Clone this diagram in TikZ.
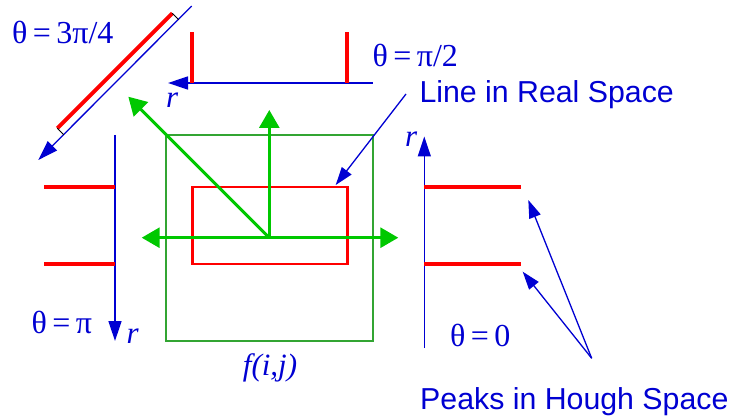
\documentclass[tikz,border=0pt]{standalone}
\usepackage{fontspec}
\setmainfont{Liberation Sans}
\newfontfamily\serif{Liberation Serif}
\usetikzlibrary{arrows.meta}
\definecolor{hblue}{RGB}{0,0,210}
\definecolor{hred}{RGB}{255,0,0}
\definecolor{hgreen}{RGB}{0,200,0}
\definecolor{boxgreen}{RGB}{50,165,50}
\newcommand{\eqsp}{\hspace{0.17em}=\hspace{0.17em}}
\tikzset{
  axisline/.style={draw=hblue, line width=1.5pt, -{Triangle[length=20pt,width=13pt]}},
  peakline/.style={draw=hred, line width=4pt},
  garrow/.style={draw=hgreen, line width=3pt, -{Triangle[length=18pt,width=20pt]}},
  lbl/.style={text=hblue, font=\fontsize{30.3}{36}\selectfont, inner sep=0pt},
  mlbl/.style={text=hblue, font=\serif\fontsize{32}{38}\selectfont, inner sep=0pt},
  ilbl/.style={text=hblue, font=\serif\itshape\fontsize{31}{37}\selectfont, inner sep=0pt},
  pointer/.style={draw=hblue, line width=1.3pt, -{Triangle[length=18pt,width=12pt]}},
}
\begin{document}
\begin{tikzpicture}[x=1pt,y=-1pt]
\useasboundingbox[fill=white] (0,0) rectangle (735,419);

% real space
\node[draw=boxgreen, line width=1.4pt, minimum width=207pt, minimum height=206pt, inner sep=0pt] (img) at (269.5,238) {};
\node[draw=hred, line width=2.5pt, minimum width=155pt, minimum height=77pt, inner sep=0pt] (line) at (269.8,225.6) {};
\coordinate (c) at (269.3,237.7);
\coordinate (gl) at (141.7,237.7);
\coordinate (gr) at (398.3,237.7);
\coordinate (gu) at (269.3,110);
\coordinate (gd) at (128.3,96.7);
\draw[garrow] (c) -- (gl);
\draw[garrow] (c) -- (gr);
\draw[garrow] (c) -- (gu);
\draw[garrow] (c) -- (gd);
\node[ilbl, anchor=base] (fij) at (270,375) {f(i,j)};

% theta = pi/2 (top)
\coordinate (ta0) at (372.7,83);
\coordinate (ta1) at (168,83);
\draw[axisline] (ta0) -- (ta1);
\coordinate (tp1a) at (192.3,32.3); \coordinate (tp1b) at (192.3,83);
\coordinate (tp2a) at (347.3,32.3); \coordinate (tp2b) at (347.3,83);
\draw[peakline] (tp1a) -- (tp1b);
\draw[peakline] (tp2a) -- (tp2b);
\node[ilbl, anchor=base west] (rtop) at (166,108) {r};
\node[mlbl, anchor=base west] (th2) at (372.5,66.7) {θ\eqsp π/2};

% theta = 3pi/4 (diagonal)
\coordinate (da0) at (191.7,6);
\coordinate (da1) at (38.3,160);
\draw[axisline, line width=1.3pt] (da0) -- (da1);
\coordinate (dp1) at (172.3,13.3);
\coordinate (dp2) at (57.3,128.3);
\coordinate (dt1) at (178.7,19.7);
\coordinate (dt2) at (63.7,134.7);
\draw[peakline] (dp1) -- (dp2);
\draw[black, line width=1pt] (dp1) -- (dt1);
\draw[black, line width=1pt] (dp2) -- (dt2);
\node[mlbl, anchor=base west] (th34) at (12,43.5) {θ\eqsp 3π/4};

% theta = pi (left)
\coordinate (la0) at (115,135);
\coordinate (la1) at (115,341);
\draw[axisline] (la0) -- (la1);
\coordinate (lp1a) at (44,186.7); \coordinate (lp1b) at (115,186.7);
\coordinate (lp2a) at (44,264.3); \coordinate (lp2b) at (115,264.3);
\draw[peakline] (lp1a) -- (lp1b);
\draw[peakline] (lp2a) -- (lp2b);
\node[mlbl, anchor=base west] (thpi) at (31.5,333.3) {θ\eqsp π};
\node[ilbl, anchor=base west] (rleft) at (126.5,343.3) {r};

% theta = 0 (right)
\coordinate (ra0) at (424.3,348);
\coordinate (ra1) at (424.3,136.5);
\draw[axisline] (ra0) -- (ra1);
\coordinate (rp1a) at (424.3,186.7); \coordinate (rp1b) at (521,186.7);
\coordinate (rp2a) at (424.3,264.3); \coordinate (rp2b) at (521,264.3);
\draw[peakline] (rp1a) -- (rp1b);
\draw[peakline] (rp2a) -- (rp2b);
\node[ilbl, anchor=base west] (rright) at (405,146.7) {r};
\node[mlbl, anchor=base west] (th0) at (450,346.7) {θ\eqsp 0};

% labels and pointers
\node[lbl, anchor=base west] (real) at (419.3,102.7) {Line in Real Space};
\coordinate (realfoot) at (406,94);
\coordinate (realtip) at (335.7,185);
\draw[pointer] (realfoot) -- (realtip);

\node[lbl, anchor=base west] (peaks) at (420,409) {Peaks in Hough Space};
\coordinate (pk) at (591.7,358.3);
\coordinate (pk1) at (528.3,200);
\coordinate (pk2) at (522.7,271.7);
\draw[pointer] (pk) -- (pk1);
\draw[pointer] (pk) -- (pk2);
\end{tikzpicture}
\end{document}
